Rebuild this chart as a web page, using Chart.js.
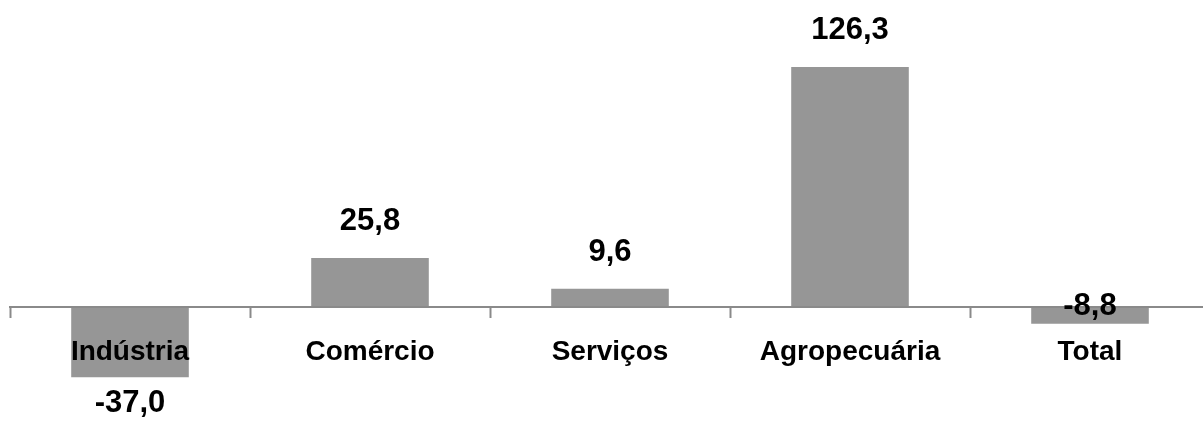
<!DOCTYPE html>
<html>
<head>
<meta charset="utf-8">
<script src="https://cdn.jsdelivr.net/npm/chart.js@4"></script>
<style>
  html, body { margin: 0; padding: 0; background: #fff; overflow: hidden; }
  #wrap { width: 1212px; height: 426px; }
</style>
</head>
<body>
<div id="wrap"><canvas id="chart" width="1212" height="426"></canvas></div>
<script>
const categories = ['Indústria', 'Comércio', 'Serviços', 'Agropecuária', 'Total'];
const variation = [-37.0, 25.8, 9.6, 126.3, -8.8];
const yMin = -60;
const yMax = 160;

const barColor = '#969696';
const axisColor = '#8a8a8a';
const fontFamily = '"Liberation Sans", Arial, sans-serif';

function formatValue(v) {
  return v.toFixed(1).replace('.', ',');
}

// value labels above positive bars, below negative ones;
// short negative bars get their label centred on the zero line
const valueLabels = {
  id: 'valueLabels',
  afterDraw(chart) {
    const { ctx } = chart;
    const meta = chart.getDatasetMeta(0);
    const zero = chart.scales.y.getPixelForValue(0);
    ctx.save();
    ctx.font = `bold 31px ${fontFamily}`;
    ctx.fillStyle = '#000';
    ctx.textAlign = 'center';
    ctx.textBaseline = 'alphabetic';
    meta.data.forEach((bar, i) => {
      const v = variation[i];
      let y;
      if (v >= 0) {
        y = bar.y - 28;
      } else if (bar.y - zero < 30) {
        y = zero + 8;
      } else {
        y = bar.y + 35;
      }
      ctx.fillText(formatValue(v), bar.x, y);
    });
    ctx.restore();
  },
};

new Chart(document.getElementById('chart'), {
  type: 'bar',
  data: {
    labels: categories,
    datasets: [{
      data: variation,
      backgroundColor: barColor,
      borderWidth: 0,
      categoryPercentage: 1,
      barPercentage: 0.49,
    }],
  },
  options: {
    responsive: false,
    animation: false,
    layout: { padding: { left: 10, right: 2, top: 3, bottom: 5 } },
    plugins: {
      legend: { display: false },
      tooltip: { enabled: false },
    },
    scales: {
      x: {
        position: { y: 0 },
        afterFit: (scale) => { scale.height = 0; },
        grid: {
          drawOnChartArea: false,
          drawTicks: true,
          tickLength: 10,
          tickColor: axisColor,
          tickWidth: 2,
          offset: true,
          z: 1,
        },
        border: { display: true, color: axisColor, width: 2, z: 1 },
        ticks: {
          z: 1,
          color: '#000',
          padding: 18,
          maxRotation: 0,
          autoSkip: false,
          font: { family: fontFamily, size: 28, weight: 'bold' },
        },
      },
      y: {
        display: false,
        min: yMin,
        max: yMax,
      },
    },
  },
  plugins: [valueLabels],
});
</script>
</body>
</html>
